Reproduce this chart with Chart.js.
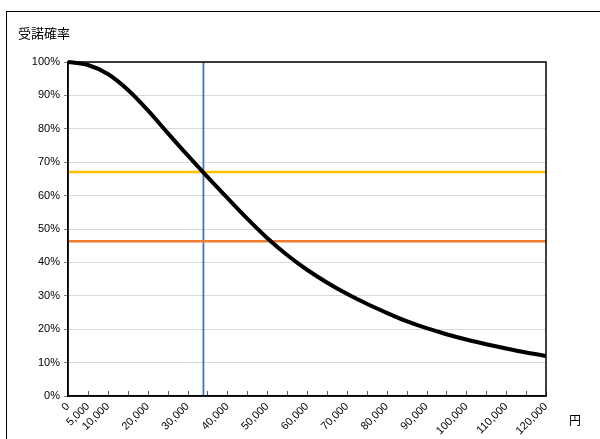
<!DOCTYPE html>
<html>
<head>
<meta charset="utf-8">
<script src="https://cdn.jsdelivr.net/npm/chart.js@4.4.0/dist/chart.umd.min.js"></script>
<style>
html, body { margin: 0; padding: 0; background: #fff; }
#wrap { position: relative; width: 600px; height: 439px; overflow: hidden; }
#frame { position: absolute; left: 6px; top: 11px; width: 700px; height: 500px;
    border-left: 1.5px solid #000; border-top: 1.5px solid #000; }
#title { position: absolute; left: 18px; top: 23px; font: 13px "Noto Sans CJK JP"; color: #000; }
#unit { position: absolute; left: 569px; top: 411px; font: 12px "Noto Sans CJK JP"; color: #000; }
#chart { position: absolute; left: 0; top: 0; }
</style>
</head>
<body>
<div id="wrap">
    <div id="frame"></div>
    <canvas id="chart" width="600" height="439"></canvas>
    <div id="title">受諾確率</div>
    <div id="unit">円</div>
</div>
<script>
'use strict';

// 価格(円)と受諾確率(%)
const prices = [0, 5000, 10000, 15000, 20000, 25000, 30000, 35000, 40000, 45000,
    50000, 55000, 60000, 65000, 70000, 75000, 80000, 85000, 90000, 95000,
    100000, 105000, 110000, 115000, 120000];
const acceptRate = [100, 99.1, 96.4, 91.7, 85.6, 78.8, 72.1, 65.6, 59.3, 53.1,
    47.3, 42.2, 37.8, 34.0, 30.6, 27.6, 24.9, 22.4, 20.3, 18.5,
    16.9, 15.5, 14.2, 13.0, 12.0];

const xTickLabels = [0, 5000, 10000, 20000, 30000, 40000, 50000, 60000,
    70000, 80000, 90000, 100000, 110000, 120000];

const currentPrice = 34000;
const currentRate = 67.1;
const targetRate = 46.3;

const frameTicks = {
    id: 'frameTicks',
    afterDraw(chart) {
        const ctx = chart.ctx;
        const a = chart.chartArea;
        const xs = chart.scales.x;
        ctx.save();
        ctx.strokeStyle = '#595959';
        ctx.lineWidth = 1;
        xs.ticks.forEach(function (t) {
            const px = Math.round(xs.getPixelForValue(t.value)) + 0.5;
            ctx.beginPath();
            ctx.moveTo(px, a.bottom);
            ctx.lineTo(px, a.bottom - 5);
            ctx.stroke();
        });
        ctx.strokeStyle = '#000';
        ctx.lineWidth = 1.5;
        ctx.strokeRect(a.left, a.top, a.right - a.left, a.bottom - a.top);
        ctx.restore();
    }
};

let ctx = document.getElementById('chart').getContext('2d');

window.demandChart = new Chart(ctx, {
    type: 'line',
    data: {
        datasets: [
            {
                data: prices.map(function (p, i) { return {x: p, y: acceptRate[i]}; }),
                borderColor: '#000',
                borderWidth: 4,
                pointRadius: 0,
                cubicInterpolationMode: 'monotone',
                clip: false,
                order: 0,
            },
            {
                data: [{x: 0, y: currentRate}, {x: 120000, y: currentRate}],
                borderColor: '#FFC000',
                borderWidth: 2.5,
                pointRadius: 0,
                order: 1,
            },
            {
                data: [{x: 0, y: targetRate}, {x: 120000, y: targetRate}],
                borderColor: '#ED7D31',
                borderWidth: 2.5,
                pointRadius: 0,
                order: 1,
            },
            {
                data: [{x: currentPrice, y: 0}, {x: currentPrice, y: 100}],
                borderColor: '#4472C4',
                borderWidth: 1.8,
                pointRadius: 0,
                order: 1,
            },
        ],
    },
    options: {
        responsive: false,
        animation: false,
        layout: {padding: {top: 62, right: 54, left: 0, bottom: 0}},
        plugins: {
            legend: {display: false},
            tooltip: {enabled: false},
        },
        scales: {
            x: {
                type: 'linear',
                min: 0,
                max: 120000,
                grid: {display: false},
                border: {display: true, color: '#000', width: 1.5},
                ticks: {
                    stepSize: 5000,
                    autoSkip: false,
                    maxRotation: 45,
                    minRotation: 45,
                    padding: -4,
                    color: '#000',
                    font: {family: 'Liberation Sans', size: 11},
                    callback: function (v) {
                        return xTickLabels.includes(v) ? v.toLocaleString('en-US') : '';
                    },
                },
                afterFit: function (s) { s.height = 43; },
            },
            y: {
                min: 0,
                max: 100,
                grid: {color: '#d9d9d9', tickColor: '#7f7f7f', tickLength: 4},
                border: {display: true, color: '#000', width: 1.5},
                ticks: {
                    stepSize: 10,
                    padding: 4,
                    color: '#000',
                    font: {family: 'Liberation Sans', size: 11},
                    callback: function (v) { return v + '%'; },
                },
                afterFit: function (s) { s.width = 68; },
            },
        },
    },
    plugins: [frameTicks],
});
</script>
</body>
</html>
